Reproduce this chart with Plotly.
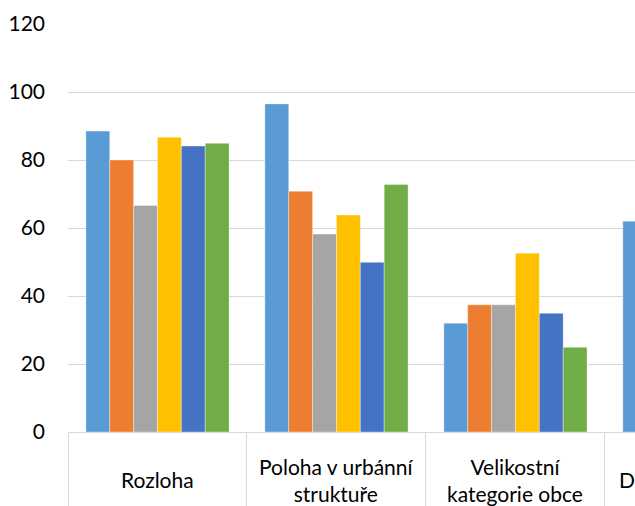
import plotly.graph_objects as go

categories = ["Rozloha", "Poloha v urbánní<br>struktuře", "Velikostní<br>kategorie obce", "Druh zástavby"]
series_names = ["Řada 1", "Řada 2", "Řada 3", "Řada 4", "Řada 5", "Řada 6"]
s1 = [88.5, 96.5, 32.0, 62.0]
s2 = [80.0, 70.8, 37.4, None]
s3 = [66.6, 58.2, 37.4, None]
s4 = [86.7, 63.8, 52.6, None]
s5 = [84.1, 49.9, 34.9, None]
s6 = [84.9, 72.8, 24.9, None]
series = [s1, s2, s3, s4, s5, s6]
colors = ["#5B9BD5", "#ED7D31", "#A5A5A5", "#FFC000", "#4472C4", "#70AD47"]
y_ticks = [0, 20, 40, 60, 80, 100, 120]

FONT = "Lato"
x_idx = list(range(len(categories)))
X_MAX = 2.668  # visible part of the category axis (chart is cropped at right)

fig = go.Figure()
for name, vals, col in zip(series_names, series, colors):
    fig.add_trace(go.Bar(
        x=x_idx, y=vals, name=name,
        marker=dict(color=col, line=dict(width=0.6, color="rgba(255,255,255,0.6)")),
        showlegend=False,
    ))

for i, c in enumerate(categories):
    if i <= X_MAX:
        fig.add_annotation(
            x=i, xref="x", y=-0.1176, yref="paper",
            text=c, showarrow=False, xanchor="center", yanchor="middle",
            font=dict(family=FONT, size=21, color="#000000"),
        )
    else:
        # label of the cropped category: keep its left part inside the range
        fig.add_annotation(
            x=i - 0.433, xref="x", y=-0.1176, yref="paper",
            text=c, showarrow=False, xanchor="left", yanchor="middle",
            font=dict(family=FONT, size=21, color="#000000"),
        )

fig.update_layout(
    width=635, height=506,
    margin=dict(l=68, r=0, t=24, b=74, autoexpand=False),
    paper_bgcolor="white", plot_bgcolor="white",
    barmode="group", bargap=0.2, bargroupgap=0,
    font=dict(family=FONT, size=21, color="#000000"),
)
fig.update_xaxes(
    type="linear", range=[-0.5, X_MAX], automargin=False,
    showgrid=False, zeroline=False, showticklabels=False,
    showline=True, linecolor="#D9D9D9", linewidth=1,
    tickmode="array", tickvals=[-0.5, 0.5, 1.5, 2.5, 3.5],
    ticks="outside", ticklen=90, tickcolor="#D9D9D9", tickwidth=1,
)
fig.update_yaxes(
    range=[0, 120], tickmode="array", tickvals=y_ticks, automargin=False,
    showgrid=True, gridcolor="#D9D9D9", gridwidth=1,
    zeroline=False, showline=False,
    ticklabelstandoff=22,
    tickfont=dict(family=FONT, size=21, color="#000000"),
)

fig.write_html(
    "out.html",
    config={"displayModeBar": False},
    post_script="document.body.style.margin='0';document.body.style.overflow='hidden';",
)
